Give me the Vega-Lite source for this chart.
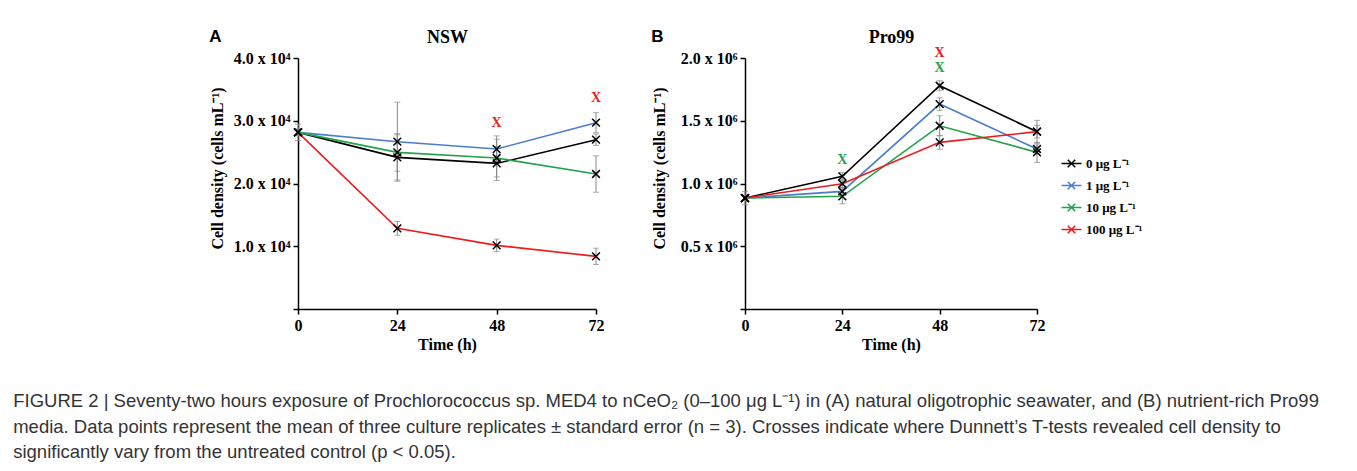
{
  "$schema": "https://vega.github.io/schema/vega-lite/v6.json",
  "background": "white",
  "padding": {"left": 13, "top": 28, "right": 10, "bottom": 5},
  "datasets": {
    "a": [
      {"t": 0, "dose": "0 μg L⁻¹", "v": 28150, "e": 1300},
      {"t": 0, "dose": "1 μg L⁻¹", "v": 28150, "e": 500},
      {"t": 0, "dose": "10 μg L⁻¹", "v": 28150, "e": 500},
      {"t": 0, "dose": "100 μg L⁻¹", "v": 28150, "e": 500},
      {"t": 24, "dose": "0 μg L⁻¹", "v": 24160, "e": 3600},
      {"t": 24, "dose": "1 μg L⁻¹", "v": 26660, "e": 6300},
      {"t": 24, "dose": "10 μg L⁻¹", "v": 24960, "e": 3000},
      {"t": 24, "dose": "100 μg L⁻¹", "v": 12850, "e": 1100},
      {"t": 48, "dose": "0 μg L⁻¹", "v": 23200, "e": 2700},
      {"t": 48, "dose": "1 μg L⁻¹", "v": 25490, "e": 2100},
      {"t": 48, "dose": "10 μg L⁻¹", "v": 24060, "e": 3000},
      {"t": 48, "dose": "100 μg L⁻¹", "v": 10140, "e": 1000},
      {"t": 72, "dose": "0 μg L⁻¹", "v": 26980, "e": 900},
      {"t": 72, "dose": "1 μg L⁻¹", "v": 29690, "e": 1600},
      {"t": 72, "dose": "10 μg L⁻¹", "v": 21510, "e": 2900},
      {"t": 72, "dose": "100 μg L⁻¹", "v": 8390, "e": 1300}
    ],
    "b": [
      {"t": 0, "dose": "0 μg L⁻¹", "v": 884000, "e": 53000},
      {"t": 0, "dose": "1 μg L⁻¹", "v": 884000, "e": 20000},
      {"t": 0, "dose": "10 μg L⁻¹", "v": 884000, "e": 20000},
      {"t": 0, "dose": "100 μg L⁻¹", "v": 884000, "e": 20000},
      {"t": 24, "dose": "0 μg L⁻¹", "v": 1057000, "e": 30000},
      {"t": 24, "dose": "1 μg L⁻¹", "v": 937000, "e": 30000},
      {"t": 24, "dose": "10 μg L⁻¹", "v": 898000, "e": 60000},
      {"t": 24, "dose": "100 μg L⁻¹", "v": 998000, "e": 30000},
      {"t": 48, "dose": "0 μg L⁻¹", "v": 1779000, "e": 40000},
      {"t": 48, "dose": "1 μg L⁻¹", "v": 1633000, "e": 50000},
      {"t": 48, "dose": "10 μg L⁻¹", "v": 1460000, "e": 80000},
      {"t": 48, "dose": "100 μg L⁻¹", "v": 1328000, "e": 55000},
      {"t": 72, "dose": "0 μg L⁻¹", "v": 1413000, "e": 90000},
      {"t": 72, "dose": "1 μg L⁻¹", "v": 1275000, "e": 40000},
      {"t": 72, "dose": "10 μg L⁻¹", "v": 1248000, "e": 80000},
      {"t": 72, "dose": "100 μg L⁻¹", "v": 1413000, "e": 50000}
    ],
    "annA": [
      {"t": 48, "v": 29630, "dose": "100 μg L⁻¹"},
      {"t": 72, "v": 33560, "dose": "100 μg L⁻¹"}
    ],
    "annB": [
      {"t": 24, "v": 1184000, "dose": "10 μg L⁻¹"},
      {"t": 48, "v": 1917000, "dose": "10 μg L⁻¹"},
      {"t": 48, "v": 2037000, "dose": "100 μg L⁻¹"}
    ]
  },
  "title": {
    "text": [
      "FIGURE 2 | Seventy-two hours exposure of Prochlorococcus sp. MED4 to nCeO₂ (0–100 μg L⁻¹) in (A) natural oligotrophic seawater, and (B) nutrient-rich Pro99",
      "media. Data points represent the mean of three culture replicates ± standard error (n = 3). Crosses indicate where Dunnett’s T-tests revealed cell density to",
      "significantly vary from the untreated control (p < 0.05)."
    ],
    "orient": "bottom",
    "anchor": "start",
    "frame": "bounds",
    "dx": -196,
    "offset": 40,
    "font": "Liberation Sans",
    "fontSize": 18.5,
    "fontWeight": "normal",
    "color": "#333333",
    "lineHeight": 25.6
  },
  "spacing": 47,
  "hconcat": [
    {
      "width": 298,
      "height": 251,
      "title": {"text": "A", "anchor": "start", "frame": "bounds", "font": "Liberation Sans", "fontSize": 17, "fontWeight": "bold", "offset": -18, "color": "black"},
      "encoding": {
        "y": {"field": "v", "type": "quantitative", "title": "Cell density (cells mL⁻¹)", "scale": {"domain": [0, 40000], "nice": false}, "axis": {"orient": "left", "values": [0, 10000, 20000, 30000, 40000], "labelExpr": "datum.value == 0 ? '' : format(datum.value / 10000, '.1f') + ' x 10⁴'", "titleY": 110}}
      },
      "layer": [
        {
          "data": {"name": "a"},
          "mark": {"type": "errorbar", "ticks": {"size": 6, "color": "#8a8a8a"}, "rule": {"color": "#8a8a8a"}},
          "encoding": {
            "x": {"field": "t", "type": "quantitative", "axis": null},
            "yError": {"field": "e"}
          }
        },
        {
          "data": {"name": "a"},
          "mark": {"type": "line", "strokeWidth": 1.6},
          "encoding": {
            "x": {"field": "t", "type": "quantitative", "title": "Time (h)", "scale": {"domain": [0, 72], "nice": false}, "axis": {"orient": "bottom", "values": [0, 24, 48, 72]}},
            "color": {"field": "dose", "type": "nominal", "scale": {"domain": ["0 μg L⁻¹", "1 μg L⁻¹", "10 μg L⁻¹", "100 μg L⁻¹"], "range": ["#000000", "#4a7ccf", "#22a24a", "#ee1c1c"]}, "legend": {"orient": "none", "legendX": 767, "legendY": 99, "title": null}}
          }
        },
        {
          "data": {"name": "a"},
          "mark": {"type": "point", "shape": "M-1,-1L1,1M-1,1L1,-1", "filled": false, "color": "black", "strokeWidth": 1.5, "size": 60, "opacity": 1},
          "encoding": {
            "x": {"field": "t", "type": "quantitative", "axis": null}
          }
        },
        {
          "data": {"name": "annA"},
          "mark": {"type": "text", "text": "X", "font": "Liberation Serif", "fontWeight": "bold", "fontSize": 14, "baseline": "middle"},
          "encoding": {
            "x": {"field": "t", "type": "quantitative", "title": "NSW", "axis": {"orient": "top", "labels": false, "ticks": false, "domain": false, "titleFontSize": 18, "titlePadding": 12}},
            "color": {"field": "dose", "type": "nominal", "legend": null}
          }
        }
      ]
    },
    {
      "width": 292,
      "height": 251,
      "title": {"text": "B", "anchor": "start", "frame": "bounds", "font": "Liberation Sans", "fontSize": 17, "fontWeight": "bold", "offset": -18, "color": "black"},
      "encoding": {
        "y": {"field": "v", "type": "quantitative", "title": "Cell density (cells mL⁻¹)", "scale": {"domain": [0, 2000000], "nice": false}, "axis": {"orient": "left", "values": [0, 500000, 1000000, 1500000, 2000000], "labelExpr": "datum.value == 0 ? '' : format(datum.value / 1000000, '.1f') + ' x 10⁶'", "titleY": 110, "titlePadding": 13}}
      },
      "layer": [
        {
          "data": {"name": "b"},
          "mark": {"type": "errorbar", "ticks": {"size": 6, "color": "#8a8a8a"}, "rule": {"color": "#8a8a8a"}},
          "encoding": {
            "x": {"field": "t", "type": "quantitative", "axis": null},
            "yError": {"field": "e"}
          }
        },
        {
          "data": {"name": "b"},
          "mark": {"type": "line", "strokeWidth": 1.6},
          "encoding": {
            "x": {"field": "t", "type": "quantitative", "title": "Time (h)", "scale": {"domain": [0, 72], "nice": false}, "axis": {"orient": "bottom", "values": [0, 24, 48, 72]}},
            "color": {"field": "dose", "type": "nominal", "legend": {"orient": "none", "legendX": 767, "legendY": 99, "title": null}}
          }
        },
        {
          "data": {"name": "b"},
          "mark": {"type": "point", "shape": "M-1,-1L1,1M-1,1L1,-1", "filled": false, "color": "black", "strokeWidth": 1.5, "size": 60, "opacity": 1},
          "encoding": {
            "x": {"field": "t", "type": "quantitative", "axis": null}
          }
        },
        {
          "data": {"name": "annB"},
          "mark": {"type": "text", "text": "X", "font": "Liberation Serif", "fontWeight": "bold", "fontSize": 14, "baseline": "middle"},
          "encoding": {
            "x": {"field": "t", "type": "quantitative", "title": "Pro99", "axis": {"orient": "top", "labels": false, "ticks": false, "domain": false, "titleFontSize": 18, "titlePadding": 12}},
            "color": {"field": "dose", "type": "nominal", "legend": null}
          }
        }
      ]
    }
  ],
  "config": {
    "view": {"stroke": null},
    "axis": {
      "domainColor": "black", "domainWidth": 1.5, "tickColor": "black", "tickWidth": 1.5, "tickSize": 5, "grid": false,
      "labelFont": "Liberation Serif", "labelFontWeight": "bold", "labelFontSize": 16, "labelColor": "black",
      "titleFont": "Liberation Serif", "titleFontWeight": "bold", "titleFontSize": 16, "titleColor": "black"
    },
    "axisX": {"labelPadding": 3, "titlePadding": 3, "labelFlush": false},
    "axisY": {"labelPadding": 3, "titlePadding": 8},
    "legend": {
      "symbolType": "M-2,0L2,0M-0.75,-0.75L0.75,0.75M-0.75,0.75L0.75,-0.75",
      "symbolSize": 100,
      "symbolStrokeWidth": 1.5,
      "labelFont": "Liberation Serif",
      "labelFontSize": 13,
      "labelFontWeight": "bold",
      "labelColor": "black",
      "labelOffset": 8,
      "rowPadding": 7
    }
  }
}
